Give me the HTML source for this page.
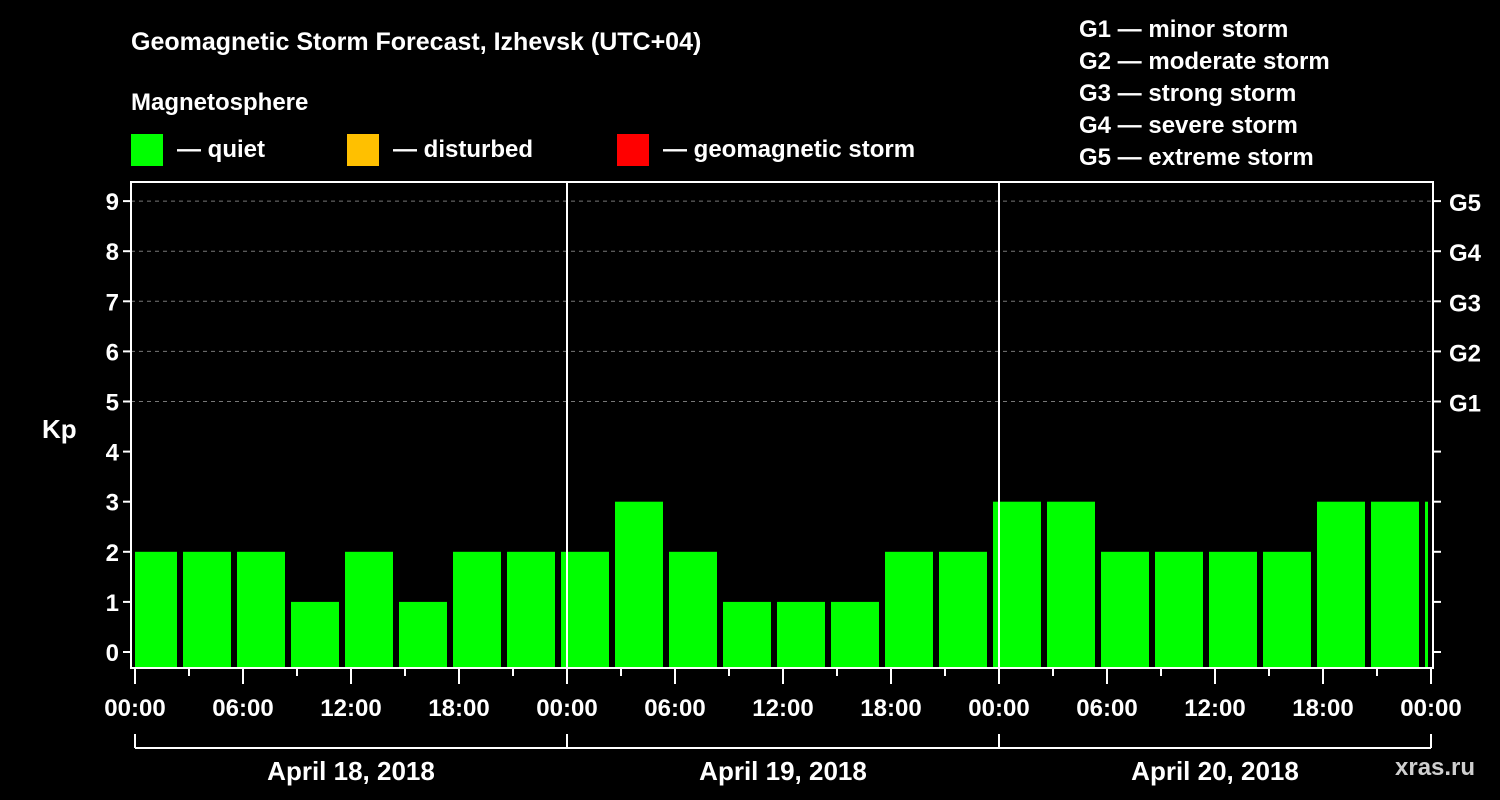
<!DOCTYPE html>
<html><head><meta charset="utf-8"><style>
body{margin:0;background:#000;width:1500px;height:800px;overflow:hidden;font-family:"Liberation Sans",Arial,sans-serif;font-weight:bold;color:#fff}
svg{display:block}
text{fill:#fff;font-family:"Liberation Sans",Arial,sans-serif;font-weight:bold}
</style></head><body>
<svg id="chart" width="1500" height="800">
<text x="131" y="50" font-size="25">Geomagnetic Storm Forecast, Izhevsk (UTC+04)</text>
<text x="131" y="110" font-size="24">Magnetosphere</text>
<g><rect x="131" y="134" width="32" height="32" fill="#00ff00"/><text x="177" y="157" font-size="24">— quiet</text></g>
<g><rect x="347" y="134" width="32" height="32" fill="#ffc000"/><text x="393" y="157" font-size="24">— disturbed</text></g>
<g><rect x="617" y="134" width="32" height="32" fill="#ff0000"/><text x="663" y="157" font-size="24">— geomagnetic storm</text></g>
<g font-size="24">
<text x="1079" y="37">G1 — minor storm</text>
<text x="1079" y="69">G2 — moderate storm</text>
<text x="1079" y="101">G3 — strong storm</text>
<text x="1079" y="133">G4 — severe storm</text>
<text x="1079" y="165">G5 — extreme storm</text>
</g>
<text x="42" y="438" font-size="26">Kp</text>
<text x="1395" y="775" font-size="24" fill="#ccc" style="fill:#cfcfcf">xras.ru</text>
<g id="grid"></g><g id="bars"></g><g id="axes"></g>
</svg>
<script>
const kpValues=[2,2,2,1,2,1,2,2,2,3,2,1,1,1,2,2,3,3,2,2,2,2,3,3,3];
const barHours=[-0.5,2.5,5.5,8.5,11.5,14.5,17.5,20.5,23.5,26.5,29.5,32.5,35.5,38.5,41.5,44.5,47.5,50.5,53.5,56.5,59.5,62.5,65.5,68.5,71.5];
const yTicks=[0,1,2,3,4,5,6,7,8,9];
const gLabels=["G1","G2","G3","G4","G5"];
const gLevels=[5,6,7,8,9];
const xTickLabels=["00:00","06:00","12:00","18:00","00:00","06:00","12:00","18:00","00:00","06:00","12:00","18:00","00:00"];
const dayLabels=["April 18, 2018","April 19, 2018","April 20, 2018"];
const NS="http://www.w3.org/2000/svg";
const L=131,R=1433,T=182,B=668;
const x=h=>135+h*18;
const y=v=>652-v*50.1;
function mk(tag,attrs,parent,txt){const e=document.createElementNS(NS,tag);for(const k in attrs)e.setAttribute(k,attrs[k]);if(txt!=null)e.textContent=txt;document.getElementById(parent).appendChild(e);return e;}
gLevels.forEach((v,i)=>{
 const g=mk('line',{x1:L,x2:R,y1:y(v),y2:y(v),stroke:'#777','stroke-dasharray':'4,4','stroke-width':1},'grid');
 
 
 const t=mk('text',{x:1449,y:y(v)+10,'font-size':24},'axes',gLabels[i]);
 
 
});
kpValues.forEach((v,i)=>{
 const c=x(barHours[i]+1.5);
 let x0=c-24,x1=c+24;x0=Math.max(x0,135);x1=Math.min(x1,1428);
 const col=v>=5?'#ff0000':(v>=4?'#ffc000':'#00ff00');
 const r=mk('rect',{x:x0,y:y(v),width:x1-x0,height:B-y(v),fill:col},'bars');
 
 
});
const fr=mk('rect',{x:L,y:T,width:R-L,height:B-T,fill:'none',stroke:'#fff','stroke-width':2},'axes');


[1,2].forEach(d=>{const l=mk('line',{x1:x(24*d),x2:x(24*d),y1:T,y2:B,stroke:'#fff','stroke-width':2},'axes');
 
 });
yTicks.forEach(v=>{
 mk('line',{x1:L-8,x2:L,y1:y(v),y2:y(v),stroke:'#fff','stroke-width':2},'axes');
 mk('line',{x1:R,x2:R+8,y1:y(v),y2:y(v),stroke:'#fff','stroke-width':2},'axes');
 const t=mk('text',{x:L-12,y:y(v)+9,'font-size':24,'text-anchor':'end'},'axes',String(v));
 
 
});
for(let h=0;h<=72;h+=3){
 const big=h%6===0;
 mk('line',{x1:x(h),x2:x(h),y1:B,y2:B+(big?16:8),stroke:'#fff','stroke-width':2},'axes');
}
xTickLabels.forEach((s,i)=>{
 const t=mk('text',{x:x(i*6),y:716,'font-size':24,'text-anchor':'middle'},'axes',s);
 
 
});
mk('line',{x1:x(0),x2:x(72),y1:748,y2:748,stroke:'#fff','stroke-width':2},'axes');
for(let d=0;d<=3;d++) mk('line',{x1:x(24*d),x2:x(24*d),y1:734,y2:748,stroke:'#fff','stroke-width':2},'axes');
dayLabels.forEach((s,i)=>{
 const t=mk('text',{x:x(24*i+12),y:780,'font-size':26,'text-anchor':'middle'},'axes',s);
 
 
});
</script>
</body></html>
